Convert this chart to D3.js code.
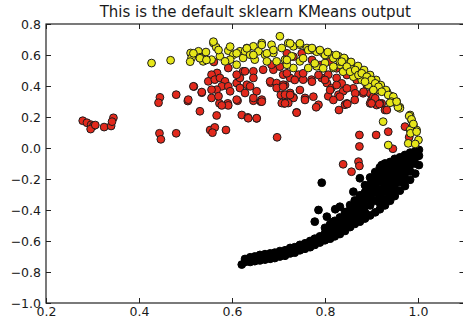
<!DOCTYPE html>
<html>
<head>
<meta charset="utf-8">
<script src="https://cdn.jsdelivr.net/npm/d3@7"></script>
<style>
  body { margin: 0; background: #fff; }
  svg { display: block; }
  text { font-family: "DejaVu Sans", sans-serif; fill: #1a1a1a; }
</style>
</head>
<body>
<script>
// KMeans clustering result: three clusters of (x, y) points
const titleText = "This is the default sklearn KMeans output";
const xTicks = [0.2, 0.4, 0.6, 0.8, 1.0];
const yTicks = [-1.0, -0.8, -0.6, -0.4, -0.2, 0.0, 0.2, 0.4, 0.6, 0.8];
const xDomain = [0.2, 1.1];
const yDomain = [-1.0, 0.8];

// cluster 0 (black): the lower arc
const blackPts = [
  [0.621,-0.752],[0.628,-0.716],[0.628,-0.735],[0.639,-0.705],[0.639,-0.735],[0.649,-0.700],[0.649,-0.730],
  [0.660,-0.690],[0.660,-0.725],[0.671,-0.685],[0.671,-0.720],[0.682,-0.680],[0.682,-0.715],
  [0.692,-0.675],[0.692,-0.710],[0.703,-0.665],[0.703,-0.700],[0.714,-0.660],[0.714,-0.695],
  [0.725,-0.645],[0.725,-0.680],[0.735,-0.640],[0.735,-0.675],[0.746,-0.625],[0.746,-0.660],
  [0.757,-0.615],[0.757,-0.650],[0.768,-0.600],[0.768,-0.640],[0.778,-0.585],[0.778,-0.625],
  [0.789,-0.570],[0.789,-0.610],[0.800,-0.550],[0.800,-0.595],[0.800,-0.515],
  [0.811,-0.530],[0.811,-0.560],[0.811,-0.585],[0.811,-0.492],[0.821,-0.510],[0.821,-0.545],[0.821,-0.570],
  [0.821,-0.470],[0.832,-0.485],[0.832,-0.520],[0.832,-0.555],[0.832,-0.448],
  [0.843,-0.465],[0.843,-0.500],[0.843,-0.535],[0.843,-0.432],
  [0.854,-0.430],[0.854,-0.470],[0.854,-0.510],[0.854,-0.398],[0.854,-0.368],
  [0.864,-0.375],[0.864,-0.415],[0.864,-0.455],[0.864,-0.490],[0.864,-0.338],
  [0.875,-0.305],[0.875,-0.350],[0.875,-0.390],[0.875,-0.435],[0.875,-0.475],
  [0.886,-0.240],[0.886,-0.285],[0.886,-0.330],[0.886,-0.375],[0.886,-0.415],[0.886,-0.455],
  [0.897,-0.190],[0.897,-0.235],[0.897,-0.280],[0.897,-0.325],[0.897,-0.370],[0.897,-0.435],
  [0.908,-0.155],[0.908,-0.200],[0.908,-0.245],[0.908,-0.290],[0.908,-0.340],[0.908,-0.415],
  [0.918,-0.125],[0.918,-0.170],[0.918,-0.215],[0.918,-0.265],[0.918,-0.310],[0.918,-0.355],[0.918,-0.395],
  [0.929,-0.100],[0.929,-0.145],[0.929,-0.190],[0.929,-0.235],[0.929,-0.280],[0.929,-0.330],[0.929,-0.370],
  [0.940,-0.090],[0.940,-0.130],[0.940,-0.175],[0.940,-0.220],[0.940,-0.260],[0.940,-0.300],[0.940,-0.340],
  [0.950,-0.070],[0.950,-0.115],[0.950,-0.155],[0.950,-0.200],[0.950,-0.240],[0.950,-0.280],[0.950,-0.310],
  [0.961,-0.060],[0.961,-0.100],[0.961,-0.140],[0.961,-0.180],[0.961,-0.220],[0.961,-0.275],
  [0.972,-0.045],[0.972,-0.085],[0.972,-0.125],[0.972,-0.165],[0.972,-0.205],[0.972,-0.245],
  [0.983,-0.030],[0.983,-0.070],[0.983,-0.110],[0.983,-0.150],[0.983,-0.205],
  [0.994,-0.020],[0.994,-0.060],[0.994,-0.100],[0.994,-0.165],
  [1.002,-0.012],[1.002,-0.050],[1.002,-0.110],
  [0.793,-0.224],[0.786,-0.400],[0.822,-0.395],[0.778,-0.475],[0.922,-0.110],[0.875,-0.195],
  [0.861,-0.282],[0.832,-0.379],[0.804,-0.443],[0.843,-0.413],[0.817,-0.477]
];

// cluster 1 (red): the scattered middle group
const redPts = [
  [0.279,0.176],[0.288,0.163],[0.297,0.150],[0.302,0.143],[0.296,0.122],[0.306,0.148],[0.325,0.135],
  [0.340,0.142],[0.345,0.195],[0.342,0.170],
  [0.445,0.327],[0.442,0.292],[0.480,0.344],[0.505,0.303],[0.518,0.396],[0.535,0.357],[0.531,0.237],
  [0.567,0.210],[0.573,0.288],[0.591,0.288],[0.612,0.305],[0.621,0.213],[0.634,0.198],[0.653,0.191],
  [0.646,0.305],[0.662,0.299],[0.444,0.095],[0.447,0.056],[0.480,0.095],[0.553,0.116],[0.563,0.133],
  [0.558,0.099],[0.587,0.116],[0.697,0.069],[0.705,0.342],[0.718,0.342],[0.712,0.288],[0.732,0.327],
  [0.739,0.230],[0.683,0.421],[0.714,0.406],
  [0.561,0.555],[0.568,0.484],[0.556,0.473],[0.549,0.430],[0.563,0.441],[0.574,0.452],[0.585,0.430],
  [0.578,0.398],[0.567,0.376],[0.556,0.376],[0.592,0.398],[0.596,0.366],[0.610,0.419],[0.617,0.452],
  [0.617,0.387],[0.632,0.408],[0.628,0.355],[0.592,0.516],[0.624,0.495],[0.610,0.473],[0.556,0.323],
  [0.571,0.334],[0.517,0.398],[0.535,0.361],[0.506,0.312],[0.610,0.312],[0.592,0.275],[0.578,0.275],
  [0.628,0.495],[0.646,0.495],[0.667,0.505],[0.689,0.505],[0.685,0.537],[0.710,0.473],[0.725,0.452],
  [0.743,0.473],[0.753,0.441],[0.771,0.441],[0.793,0.452],[0.807,0.473],[0.825,0.452],[0.804,0.419],
  [0.814,0.387],[0.807,0.334],[0.829,0.344],[0.839,0.366],[0.682,0.430],[0.696,0.419],[0.710,0.408],
  [0.725,0.355],[0.714,0.344],[0.732,0.323],[0.757,0.323],[0.707,0.290],[0.721,0.290],[0.786,0.279],
  [0.646,0.452],[0.653,0.366],[0.646,0.323],[0.664,0.312],[0.639,0.398],[0.696,0.387],[0.843,0.279],
  [0.836,0.417],[0.861,0.385],[0.865,0.353],[0.882,0.353],[0.900,0.310],[0.911,0.277],[0.922,0.288],
  [0.929,0.245],[0.897,0.353],[0.847,0.288],
  [0.874,0.084],[0.910,0.084],[0.936,0.105],[0.972,0.138],[0.981,0.070],[0.874,0.010],[0.946,-0.005],
  [0.839,-0.105],[0.857,-0.153],[0.872,-0.088],[0.874,-0.116],
  [0.718,0.611],[0.732,0.589],[0.750,0.611],[0.772,0.568],[0.789,0.535],[0.811,0.557],[0.825,0.514],
  [0.847,0.471],[0.868,0.439],[0.890,0.406],[0.904,0.331],[0.918,0.288],[0.933,0.245],
  [0.800,0.439],[0.811,0.374],[0.825,0.406],[0.832,0.331],[0.847,0.385],[0.818,0.310],[0.864,0.310],
  [0.883,0.363],[0.897,0.288],[0.908,0.321],
  [0.703,0.525],[0.718,0.482],[0.735,0.439],[0.753,0.482],[0.772,0.428],[0.786,0.471],[0.710,0.396],
  [0.725,0.342],[0.746,0.374],[0.775,0.331],[0.757,0.310],
  [0.635,0.192],[0.653,0.192],[0.664,0.299],[0.714,0.288],[0.739,0.228],[0.781,0.263],[0.830,0.245],
  [0.848,0.284],[0.900,0.288],[0.917,0.284]
];

// cluster 2 (yellow): the upper arc
const yellowPts = [
  [0.427,0.548],[0.468,0.566],[0.511,0.613],[0.513,0.581],[0.528,0.624],[0.531,0.585],[0.544,0.619],
  [0.538,0.559],[0.560,0.677],[0.566,0.650],[0.556,0.570],[0.574,0.592],[0.592,0.628],[0.603,0.602],
  [0.596,0.570],[0.617,0.624],[0.624,0.581],[0.610,0.537],[0.632,0.645],[0.585,0.559],
  [0.703,0.721],[0.664,0.677],[0.646,0.656],[0.628,0.624],[0.639,0.602],[0.657,0.624],[0.671,0.602],
  [0.689,0.613],[0.685,0.666],[0.707,0.645],[0.721,0.677],[0.732,0.656],[0.746,0.666],[0.761,0.645],
  [0.771,0.634],[0.782,0.624],[0.796,0.613],[0.811,0.602],[0.829,0.592],[0.843,0.570],[0.832,0.537],
  [0.818,0.516],[0.800,0.548],[0.782,0.527],[0.764,0.516],[0.746,0.559],[0.728,0.592],[0.714,0.570],
  [0.732,0.516],[0.718,0.537],[0.696,0.559],[0.675,0.559],[0.649,0.570],
  [0.571,0.632],[0.596,0.654],[0.610,0.611],[0.632,0.643],[0.646,0.600],[0.664,0.665],[0.675,0.611],
  [0.689,0.632],[0.725,0.675],[0.746,0.675],[0.764,0.632],[0.782,0.621],[0.800,0.600],[0.818,0.579],
  [0.832,0.557],[0.854,0.525],[0.872,0.492],[0.890,0.460],[0.904,0.428],[0.918,0.392],[0.933,0.363],
  [0.943,0.331],[0.954,0.299],[0.961,0.263],[0.718,0.568],[0.753,0.579],[0.778,0.546],[0.796,0.514],
  [0.818,0.525],[0.839,0.492],[0.861,0.460],[0.879,0.439],[0.893,0.406],[0.911,0.374],[0.510,0.557],
  [0.531,0.579],[0.545,0.568],[0.560,0.686],[0.517,0.611],
  [0.772,0.645],[0.789,0.632],[0.806,0.619],[0.824,0.600],[0.841,0.581],[0.856,0.555],[0.871,0.529],
  [0.884,0.503],[0.897,0.471],[0.910,0.439],[0.920,0.406],[0.931,0.374],[0.942,0.335],
  [0.836,0.557],[0.847,0.525],[0.854,0.492],[0.865,0.503],[0.872,0.471],[0.879,0.482],[0.890,0.460],
  [0.900,0.439],[0.886,0.428],[0.908,0.417],[0.915,0.395],[0.922,0.363],[0.904,0.374],[0.936,0.342],
  [0.947,0.331],[0.943,0.299],[0.954,0.288],[0.961,0.256],[0.983,0.213],[0.986,0.181],[0.990,0.148],
  [0.997,0.116],[1.001,0.052],[0.983,0.116],[0.979,0.030],[0.925,0.170],[0.936,0.019],
  [0.981,0.206],[0.986,0.185],[0.990,0.155],[0.984,0.095],[0.997,0.105],[0.994,0.026],
  [0.940,0.292],[0.957,0.263],[0.954,0.299]
];

const clusters = [
  { pts: blackPts, fill: "#000", edge: "#000" },
  { pts: redPts, fill: "#e2291c", edge: "#1c1c1c" },
  { pts: yellowPts, fill: "#e6e619", edge: "#1c1c1c" }
];

const W = 463, H = 320;
const plot = { left: 46, top: 24, right: 464.5, bottom: 303 };

const svg = d3.select("body").append("svg")
  .attr("width", W).attr("height", H);

const x = d3.scaleLinear().domain(xDomain).range([plot.left, plot.right]);
const y = d3.scaleLinear().domain(yDomain).range([plot.bottom, plot.top]);

svg.append("clipPath").attr("id", "plotclip")
  .append("rect")
  .attr("x", plot.left).attr("y", plot.top)
  .attr("width", plot.right - plot.left).attr("height", plot.bottom - plot.top);

// points, drawn cluster by cluster
const pointLayer = svg.append("g").attr("clip-path", "url(#plotclip)");
clusters.forEach(c => {
  pointLayer.append("g")
    .selectAll("circle")
    .data(c.pts)
    .join("circle")
    .attr("cx", d => x(d[0]))
    .attr("cy", d => y(d[1]))
    .attr("r", 3.9)
    .attr("fill", c.fill)
    .attr("stroke", c.edge)
    .attr("stroke-width", 1);
});

// axes with inward ticks on all four sides
const fmt = d3.format(".1f");
const tickLen = 5;

const gx = svg.append("g").attr("transform", `translate(0,${plot.bottom})`)
  .call(d3.axisBottom(x).tickValues(xTicks).tickFormat(fmt).tickSizeInner(-tickLen).tickSizeOuter(0).tickPadding(4));
const gxt = svg.append("g").attr("transform", `translate(0,${plot.top})`)
  .call(d3.axisTop(x).tickValues(xTicks).tickFormat("").tickSizeInner(-tickLen).tickSizeOuter(0));
const gy = svg.append("g").attr("transform", `translate(${plot.left},0)`)
  .call(d3.axisLeft(y).tickValues(yTicks).tickFormat(fmt).tickSizeInner(-tickLen).tickSizeOuter(0).tickPadding(5));
const gyr = svg.append("g").attr("transform", `translate(${plot.right},0)`)
  .call(d3.axisRight(y).tickValues(yTicks).tickFormat("").tickSizeInner(-tickLen).tickSizeOuter(0));

[gx, gxt, gy, gyr].forEach(g => {
  g.select(".domain").remove();
  g.selectAll(".tick line").attr("stroke", "#222").attr("stroke-width", 1);
  g.selectAll("text").attr("font-size", 12.5).attr("font-family", "DejaVu Sans, sans-serif").attr("fill", "#1a1a1a");
});

// frame
svg.append("rect")
  .attr("x", plot.left).attr("y", plot.top)
  .attr("width", plot.right - plot.left).attr("height", plot.bottom - plot.top)
  .attr("fill", "none").attr("stroke", "#222").attr("stroke-width", 1.2);

// title
svg.append("text")
  .attr("x", (plot.left + plot.right) / 2)
  .attr("y", 17)
  .attr("text-anchor", "middle")
  .attr("font-size", 15)
  .text(titleText);
</script>
</body>
</html>
